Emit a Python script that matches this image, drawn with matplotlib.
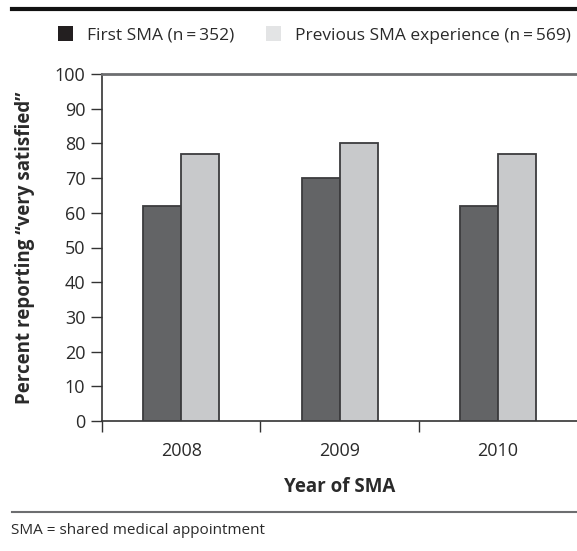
import matplotlib
matplotlib.use("Agg")
import matplotlib.pyplot as plt
from matplotlib.patches import Patch
from matplotlib.lines import Line2D
import numpy as np

plt.rcParams['font.family'] = ['Open Sans', 'DejaVu Sans']

years = ['2008', '2009', '2010']
first_sma = [62, 70, 62]
previous_sma = [77, 80, 77]
yticks = [0, 10, 20, 30, 40, 50, 60, 70, 80, 90, 100]

dark = '#636466'
light = '#c8c9cb'
edge = '#3c3c3e'
txt = '#2a2a2a'

fig = plt.figure(figsize=(5.77, 5.51), dpi=100)
ax = fig.add_axes([102/577, 1-421/551, 1-102/577, (421-74)/551])

x = np.arange(len(years))
w = 0.24
ax.bar(x - w/2, first_sma, w, color=dark, edgecolor=edge, linewidth=1.3, zorder=3)
ax.bar(x + w/2, previous_sma, w, color=light, edgecolor=edge, linewidth=1.3, zorder=3)

ax.set_xlim(-0.5, 2.5)
ax.set_ylim(0, 100)
ax.set_yticks(yticks)
ax.set_xticks([-0.5, 0.5, 1.5])
ax.set_xticklabels([])
ax.set_xticks(x, minor=True)
ax.set_xticklabels(years, minor=True)
ax.tick_params(axis='x', which='major', direction='out', length=8, width=1, color='#333333')
ax.tick_params(axis='x', which='minor', length=0, pad=15, labelsize=13, labelcolor=txt)
ax.tick_params(axis='y', direction='out', length=8, width=1, color='#333333', labelsize=13,
               labelcolor=txt, pad=4)

ax.spines['right'].set_visible(False)
ax.spines['top'].set_color('#6d6e70')
ax.spines['top'].set_linewidth(2)
ax.spines['left'].set_color('#333333')
ax.spines['bottom'].set_color('#333333')
ax.spines['left'].set_linewidth(1.2)
ax.spines['bottom'].set_linewidth(1.2)

ax.set_xlabel('Year of SMA', fontsize=13.5, fontweight='bold', color=txt, labelpad=12)
ax.set_ylabel('Percent reporting \u201cvery satisfied\u201d', fontsize=13.5, fontweight='bold',
              color=txt, labelpad=14)

handles = [Patch(facecolor='#231f20', edgecolor='none'),
           Patch(facecolor='#e3e4e5', edgecolor='none')]
leg = fig.legend(handles, ['First SMA (n\u2009=\u2009352)', 'Previous SMA experience (n\u2009=\u2009569)'],
                 ncol=2, frameon=False, loc='center', bbox_to_anchor=(0.545, 1-35/551),
                 prop={'size': 12.5}, handlelength=0.9, handleheight=0.9,
                 handletextpad=0.8, columnspacing=1.8, labelcolor=txt)

fig.add_artist(Line2D([12/577, 1], [1-9/551, 1-9/551], color='#111111', linewidth=3))
fig.add_artist(Line2D([12/577, 1], [1-512/551, 1-512/551], color='#6d6e70', linewidth=1.5))
fig.text(11/577, 1-531/551, 'SMA = shared medical appointment', fontsize=11,
         va='center', ha='left', color=txt)

fig.savefig('out.png', dpi=100)
